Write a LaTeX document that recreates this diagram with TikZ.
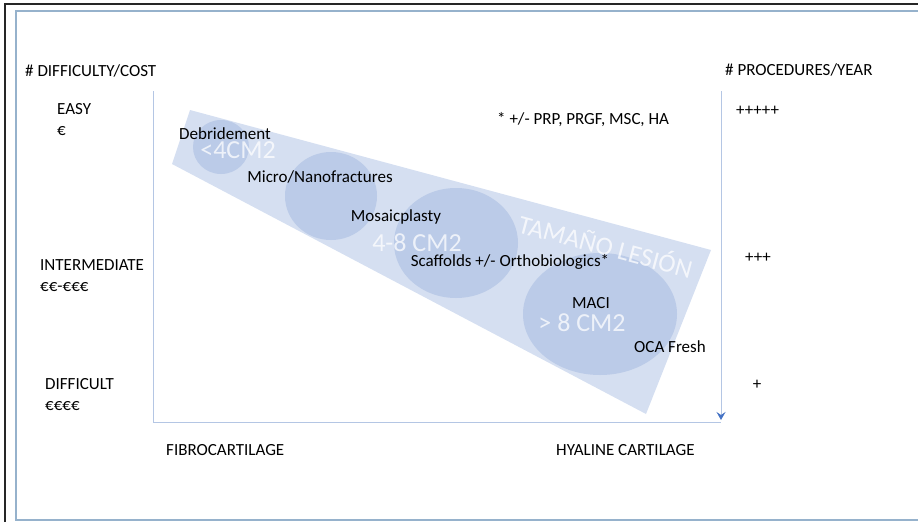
\documentclass[tikz,border=0pt]{standalone}
\usepackage{fontspec}
\setmainfont{Carlito}
\usetikzlibrary{arrows.meta}
\definecolor{bandblue}{RGB}{213,223,241}
\definecolor{blobblue}{RGB}{187,203,232}
\definecolor{axisblue}{RGB}{180,198,228}
\definecolor{arrowblue}{RGB}{68,114,196}
\definecolor{frameblue}{RGB}{150,178,204}

\begin{document}
\begin{tikzpicture}[x=1pt, y=-1pt,
  lbl/.style={font=\fontsize{17}{21}\selectfont, text=black, inner sep=0pt, align=left},
  sizelbl/.style={font=\fontsize{26}{26}\selectfont, text=white, text opacity=0.75, inner sep=0pt},
  blob/.style={fill=blobblue}]
\useasboundingbox (0,0) rectangle (918,522);
\draw[line width=1.5pt, black!85] (5,522) -- (5,4) -- (918,4);
\draw[line width=1.5pt, frameblue] (16,11) rectangle (940,520);

\coordinate (ytop) at (153,91);
\coordinate (origin) at (153,422);
\coordinate (xend) at (721,422);
\coordinate (rtop) at (721,91);
\coordinate (rbot) at (721,420);
\draw[axisblue, line width=1pt] (ytop) -- (origin) -- (xend);
\draw[-{Stealth[arrowblue, length=8pt, width=9pt, inset=3pt]}, axisblue, line width=1pt] (rtop) -- (rbot);

\fill[bandblue] (190,110) -- (711,250) -- (646,414) -- (172,164) -- cycle;
\fill[blob] (221,147) ellipse [x radius=28pt, y radius=27pt];
\fill[blob] (331,196) ellipse [x radius=46pt, y radius=44pt];
\fill[blob] (456,243) ellipse [x radius=62pt, y radius=55pt];
\fill[blob] (600,314) ellipse [x radius=77pt, y radius=61pt];

\node[sizelbl] (small) at (238,150) {<4CM2};
\node[sizelbl] (medium) at (417,243) {4-8 CM2};
\node[sizelbl] (large) at (582,323) {> 8 CM2};
\node[sizelbl, rotate=-15] (tamano) at (606,245) {TAMAÑO LESIÓN};

\node[lbl] (debr) at (225,134) {Debridement};
\node[lbl] (micro) at (320,177) {Micro/Nanofractures};
\node[lbl] (mosaic) at (396,217) {Mosaicplasty};
\node[lbl] (scaff) at (510,262) {Scaffolds +/- Orthobiologics*};
\node[lbl] (maci) at (591,303) {MACI};
\node[lbl] (oca) at (670,347) {OCA Fresh};
\node[lbl, anchor=west] (note) at (497,120) {* +/- PRP, PRGF, MSC, HA};

\node[lbl, anchor=west] (cost) at (25,71) {\# DIFFICULTY/COST};
\node[lbl, anchor=west] (easy) at (57,120) {EASY\\€};
\node[lbl, anchor=west] (inter) at (40,276) {INTERMEDIATE\\€€-€€€};
\node[lbl, anchor=west] (diff) at (45,395) {DIFFICULT\\€€€€};
\node[lbl, anchor=west] (fibro) at (166,450) {FIBROCARTILAGE};
\node[lbl, anchor=west] (hyal) at (556,450) {HYALINE CARTILAGE};

\node[lbl, anchor=west] (proc) at (725,70) {\# PROCEDURES/YEAR};
\node[lbl, anchor=west] (many) at (736,111) {+++++};
\node[lbl, anchor=west] (some) at (745,258) {+++};
\node[lbl] (few) at (757,385) {+};
\end{tikzpicture}
\end{document}
